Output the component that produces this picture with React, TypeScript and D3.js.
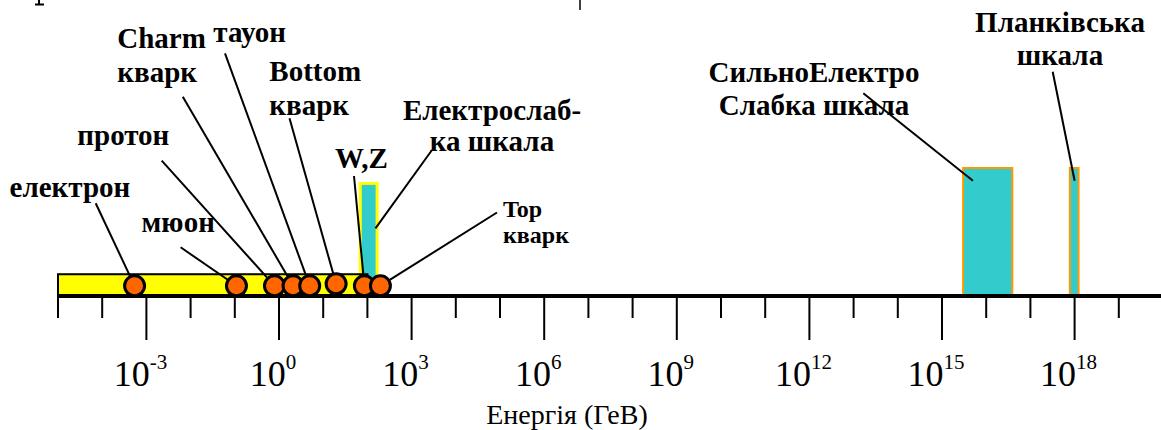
import React from 'react';
import * as d3 from 'd3';

// particle masses (GeV)
const particleNames = ['електрон', 'мюон', 'протон', 'Charm кварк', 'тауон', 'Bottom кварк', 'W,Z', 'Top кварк'];
const particleEnergy = [0.00054, 0.109, 0.79, 2.08, 4.95, 19.6, 85.5, 197];
const particleLevel = [8, 8, 8, 8, 8, 9.5, 8, 8];

// energy bands: [from, to] in GeV and relative height
const bandNames = ['Електрослабка шкала', 'СильноЕлектроСлабка шкала', 'Планківська шкала'];
const bandFrom = [69, 3.0e15, 7.8e17];
const bandTo = [166, 3.9e16, 1.23e18];
const bandHeight = [88, 100, 100];

// the yellow strip under the particles
const stripFrom = 1e-5;
const stripTo = 100;
const stripHeight = 17;

const tickExponents = d3.range(-5, 21);
const labelExponents = [-3, 0, 3, 6, 9, 12, 15, 18];

const WIDTH = 1161;
const HEIGHT = 430;
const AXIS_Y = 296;

// label layout (text lines, anchor, baseline, leader start)
interface Note {
  lines: string[];
  x: number;
  y: number[];
  size: number;
  anchor: 'start' | 'middle';
  from: [number, number];
}

const particleNotes: Note[] = [
  { lines: ['електрон'], x: 9.6, y: [196.7], size: 29, anchor: 'start', from: [95.7, 203.3] },
  { lines: ['мюон'], x: 141.5, y: [232], size: 29, anchor: 'start', from: [180.6, 247.3] },
  { lines: ['протон'], x: 77.3, y: [145], size: 29, anchor: 'start', from: [161.7, 160.7] },
  { lines: ['Charm', 'кварк'], x: 117.3, y: [48.3, 81.7], size: 29, anchor: 'start', from: [182.8, 96.7] },
  { lines: ['тауон'], x: 213.3, y: [41.7], size: 29, anchor: 'start', from: [225, 53.3] },
  { lines: ['Bottom', 'кварк'], x: 269.3, y: [81, 115], size: 29, anchor: 'start', from: [289.5, 118.3] },
  { lines: ['W,Z'], x: 335, y: [167.5], size: 29, anchor: 'start', from: [354, 176] },
  { lines: ['Top', 'кварк'], x: 503, y: [216.7, 243.3], size: 24, anchor: 'start', from: [497, 212.5] },
];

const bandNotes: Note[] = [
  { lines: ['Електрослаб-', 'ка шкала'], x: 492, y: [120, 151], size: 29, anchor: 'middle', from: [432, 150] },
  { lines: ['СильноЕлектро', 'Слабка шкала'], x: 814, y: [81.7, 115], size: 29, anchor: 'middle', from: [863.3, 93.3] },
  { lines: ['Планківська', 'шкала'], x: 1060, y: [31.7, 65], size: 29, anchor: 'middle', from: [1052.7, 71.7] },
];

// where each band leader touches the band, as fraction across and height
const bandHit: [number, number][] = [[0.9, 0.6], [0.2, 0.9], [0.55, 0.9]];

const R = 10;

const App: React.FC = () => {
  const x = d3.scaleLog().domain([1e-5, 1e20]).range([58, 1163]);
  const y = d3.scaleLinear().domain([0, 100]).range([AXIS_Y, 168]);

  const renderNote = (n: Note, key: string, to: [number, number]) => (
    <g key={key}>
      <line x1={n.from[0]} y1={n.from[1]} x2={to[0]} y2={to[1]} stroke="#000" strokeWidth={2} />
      {n.lines.map((t, i) => (
        <text key={i} x={n.x} y={n.y[i]} fontSize={n.size} textAnchor={n.anchor} fontFamily="Liberation Serif" fontWeight="bold">
          {t}
        </text>
      ))}
    </g>
  );

  return (
    <div style={{ position: 'absolute', left: 0, top: 0, fontFamily: 'Liberation Serif' }}>
      <svg width={WIDTH} height={HEIGHT}>
        {/* clipped remains of the slide above */}
        <path d="M39,0V4M35,4.5H44" stroke="#000" strokeWidth={2} fill="none" />
        <line x1={580} y1={0} x2={580} y2={10} stroke="#000" strokeWidth={1.5} />

        {/* bands */}
        {bandNames.map((name, i) => (
          <rect
            key={name}
            x={x(bandFrom[i])}
            y={y(bandHeight[i])}
            width={x(bandTo[i]) - x(bandFrom[i])}
            height={AXIS_Y - y(bandHeight[i])}
            fill="#33cccc"
            stroke={i === 0 ? '#ffff00' : '#ff9900'}
            strokeWidth={i === 0 ? 3 : 2}
          />
        ))}

        {/* yellow strip */}
        <rect
          x={x(stripFrom)}
          y={y(stripHeight)}
          width={x(stripTo) - x(stripFrom)}
          height={AXIS_Y - y(stripHeight)}
          fill="#ffff00"
          stroke="#000"
          strokeWidth={2}
        />

        {/* axis */}
        <line x1={x(1e-5)} y1={AXIS_Y} x2={WIDTH} y2={AXIS_Y} stroke="#000" strokeWidth={4} />
        {tickExponents.map(e => {
          const major = e % 3 === 0;
          return (
            <line
              key={e}
              x1={x(Math.pow(10, e))}
              x2={x(Math.pow(10, e))}
              y1={AXIS_Y}
              y2={AXIS_Y + (major ? 44 : 22)}
              stroke="#000"
              strokeWidth={2}
            />
          );
        })}
        {labelExponents.map(e => (
          <text key={e} x={x(Math.pow(10, e)) - 6} y={386} fontSize={36} textAnchor="middle" fontFamily="Liberation Serif">
            10
            <tspan dy={-17} fontSize={21}>{e}</tspan>
          </text>
        ))}
        <text x={567} y={424} fontSize={28} textAnchor="middle" fontFamily="Liberation Serif">
          Енергія (ГеВ)
        </text>

        {/* band notes */}
        {bandNotes.map((n, i) => {
          const hx = x(bandFrom[i]) + (x(bandTo[i]) - x(bandFrom[i])) * bandHit[i][0];
          const hy = y(bandHeight[i] * bandHit[i][1]);
          return renderNote(n, bandNames[i], [hx, hy]);
        })}

        {/* particle notes */}
        {particleNames.map((name, i) => {
          const cx = x(particleEnergy[i]);
          const cy = y(particleLevel[i]);
          const n = particleNotes[i];
          const dx = n.from[0] - cx;
          const dy = n.from[1] - cy;
          const d = Math.sqrt(dx * dx + dy * dy);
          const to: [number, number] = [cx + (dx / d) * (R + 1), cy + (dy / d) * (R + 1)];
          return renderNote(n, name, to);
        })}

        {/* particles */}
        {particleNames.map((name, i) => (
          <circle
            key={name}
            cx={x(particleEnergy[i])}
            cy={y(particleLevel[i])}
            r={R}
            fill="#ff6600"
            stroke="#000"
            strokeWidth={3}
          />
        ))}
      </svg>
    </div>
  );
};

export default App;
